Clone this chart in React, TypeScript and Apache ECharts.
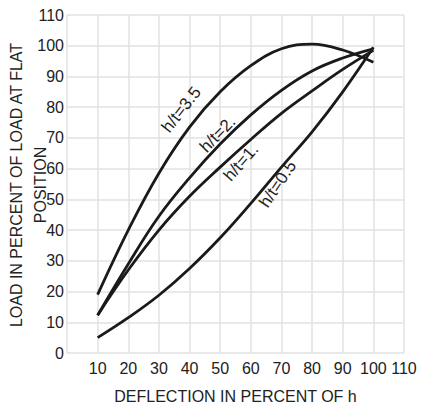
import React, { useEffect, useRef } from "react";
import * as echarts from "echarts";

const deflection = [10, 20, 30, 40, 50, 60, 70, 80, 90, 100];
const loadHt35 = [19, 40, 58.5, 73.5, 85, 93.5, 99, 100.5, 98.6, 94.6];
const loadHt2 = [12.3, 29, 44.5, 57, 68, 77.5, 85.5, 91.8, 96, 99];
const loadHt1 = [12.3, 27, 40, 51, 60.5, 69.5, 78, 85.3, 92.3, 98.5];
const loadHt05 = [5, 11.5, 18.8, 27.5, 37.5, 48.7, 60.5, 72, 85, 99.5];
const seriesNames = ["h/t=3.5", "h/t=2.", "h/t=1.", "h/t=0.5"];
const labelAnchors = [
  [37.3, 79.2],
  [49.2, 71.2],
  [56.8, 62],
  [68.8, 55],
];
const labelAngles = [52, 46, 49, 56];

const xName = "DEFLECTION IN PERCENT OF h";
const yName = "LOAD IN PERCENT OF LOAD AT FLAT\nPOSITION";

export default function App() {
  const ref = useRef<HTMLDivElement>(null);
  useEffect(() => {
    if (!ref.current) return;
    const chart = echarts.init(ref.current, undefined, { renderer: "svg" });
    const all = [loadHt35, loadHt2, loadHt1, loadHt05];
    const grey = "#e2e2e2";
    const txt = "#222";
    const ff = "Liberation Sans, Arial";
    chart.setOption({
      animation: false,
      backgroundColor: "#fff",
      grid: { left: 67, right: 17, top: 15, bottom: 55, containLabel: false, outerBoundsMode: "none" },
      xAxis: {
        type: "value",
        min: 0,
        max: 110,
        interval: 10,
        name: xName,
        nameLocation: "middle",
        nameGap: 35,
        nameTextStyle: { color: txt, fontSize: 16, fontFamily: ff },
        axisLine: { show: false },
        axisTick: { show: false },
        axisLabel: {
          color: txt,
          fontSize: 16,
          fontFamily: ff,
          margin: 7,
          formatter: (v: number) => (v === 0 ? "" : String(v)),
        },
        splitLine: { show: true, lineStyle: { color: grey, width: 1.5 } },
      },
      yAxis: {
        type: "value",
        min: 0,
        max: 110,
        interval: 10,
        axisLine: { show: false },
        axisTick: { show: false },
        axisLabel: { color: txt, fontSize: 16, fontFamily: ff, margin: 3 },
        splitLine: { show: true, lineStyle: { color: grey, width: 1.5 } },
      },
      series: all.map((vals, i) => ({
        name: seriesNames[i],
        type: "line",
        smooth: 0.4,
        symbol: "none",
        data: deflection.map((d, j) => [d, vals[j]]),
        lineStyle: { color: "#1a1a1a", width: 2.8 },
      })),
    });
    const graphics = seriesNames.map((n, i) => {
      const p = chart.convertToPixel({ gridIndex: 0 }, labelAnchors[i]) as number[];
      return {
        type: "text",
        x: p[0],
        y: p[1],
        rotation: (labelAngles[i] * Math.PI) / 180,
        style: {
          text: n,
          fill: txt,
          fontSize: 17,
          fontFamily: ff,
          align: "center",
          verticalAlign: "middle",
        },
      };
    });
    chart.setOption({
      graphic: [
        {
          type: "text",
          x: 28.5,
          y: 185,
          rotation: Math.PI / 2,
          style: {
            text: yName,
            fill: txt,
            fontSize: 16,
            lineHeight: 23.5,
            fontFamily: ff,
            align: "center",
            verticalAlign: "middle",
          },
        },
        ...graphics,
      ],
    });
    return () => chart.dispose();
  }, []);
  return <div ref={ref} style={{ width: 421, height: 408, position: "absolute", left: 0, top: 0 }} />;
}
